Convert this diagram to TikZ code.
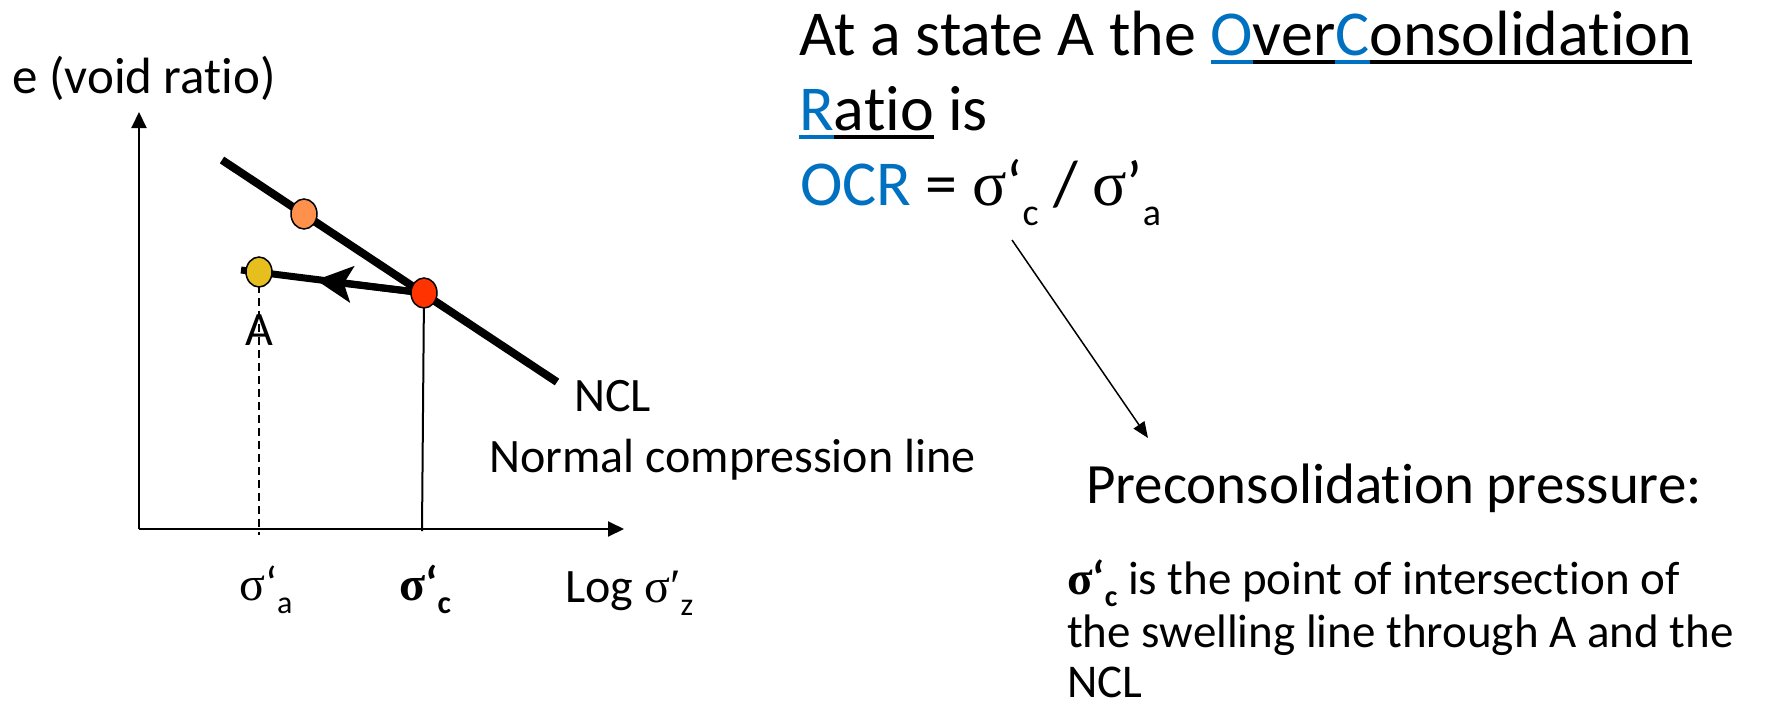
\documentclass[tikz,border=0pt]{standalone}
\usepackage{fontspec}
\setmainfont{Carlito}[Ligatures=NoCommon]
\newfontfamily\symfont{Liberation Serif}
\usetikzlibrary{arrows.meta, shapes.geometric}

\definecolor{ocrblue}{HTML}{0070C0}
\definecolor{ptorange}{HTML}{FF914D}
\definecolor{ptred}{HTML}{FF3300}
\definecolor{ptyellow}{HTML}{E6BE1E}

% sigma in a symbol-like serif, lowered small index, coloured underline
\newcommand{\sig}{{\symfont σ}}
\newcommand{\lowsub}[3]{\raisebox{-#2pt}{\fontsize{#1}{#1}\selectfont #3}}
\newcommand{\ulc}[2]{\setbox0\hbox{\color{#1}#2}\rlap{\color{#1}\rule[-9pt]{\wd0}{4pt}}\box0\relax}

\begin{document}
\begin{tikzpicture}[x=1pt, y=-1pt,
    txt/.style={inner sep=0pt, anchor=base west, font=\fontsize{48}{58}\selectfont},
    bigtxt/.style={inner sep=0pt, anchor=base west, font=\fontsize{64}{76}\selectfont},
    pt/.style={ellipse, draw=black, line width=1.5pt, minimum width=26pt, minimum height=30pt, inner sep=0pt},
    axis/.style={line width=2pt, -{Triangle[length=16pt,width=15pt]}},
    ncl/.style={line width=8pt},
    swell/.style={line width=7pt}]
    \useasboundingbox (0,0) rectangle (1765,707);

    % Axes
    \coordinate (origin) at (139,529);
    \coordinate (ytip) at (139,112);
    \coordinate (xtip) at (624,529);
    \draw[axis] (origin) -- (ytip);
    \draw[axis] (origin) -- (xtip);
    \node[txt, font=\fontsize{51}{60}\selectfont] (ylab) at (12,93) {e (void ratio)};

    % Lines
    \coordinate (ncltop) at (222,160);
    \coordinate (nclend) at (557,382);
    \coordinate (pc) at (424,293);
    \coordinate (po) at (304,214);
    \coordinate (pa) at (259,272);
    \coordinate (swtip) at (316,280);
    \coordinate (swstub) at (241,270);
    \draw[ncl] (ncltop) -- (nclend);
    \draw[swell] (pc) -- (swstub);
    \draw[swell, -{Stealth[length=36pt,width=36pt,inset=8pt]}] (pc) -- (swtip);
    \draw[line width=2pt, dash pattern=on 8pt off 5pt] (pa) -- (259,535);
    \draw[line width=2pt] (pc) -- (422,531);

    % Points
    \node[pt, fill=ptorange] (O) at (po) {};
    \node[pt, fill=ptred] (C) at (pc) {};
    \node[pt, fill=ptyellow] (A) at (pa) {};
    \node[txt, anchor=base] (Alab) at (259,345) {A};

    % Axis labels
    \node[txt] (siga) at (239,600) {\sig‘\lowsub{32}{13}{a}};
    \node[txt] (sigc) at (399,600) {{\symfont\bfseries σ}{\bfseries ‘}\lowsub{32}{13}{\bfseries c}};
    \node[txt] (logs) at (565,602) {Log \sig{\symfont ′}\lowsub{32}{13}{z}};
    \node[txt] (ncl) at (574,411) {NCL};
    \node[txt] (nclname) at (489,472) {Normal compression line};

    % Definition of OCR
    \node[bigtxt] (head1) at (799,55) {At a state A the \ulc{ocrblue}{O}\ulc{black}{ver}\ulc{ocrblue}{C}\ulc{black}{onsolidation}};
    \node[bigtxt] (head2) at (799,130) {\ulc{ocrblue}{R}\ulc{black}{atio} is};
    \node[bigtxt] (ocr) at (800,205) {{\color{ocrblue}OCR} = \sig‘\lowsub{38}{20}{c} / \sig\char"27\lowsub{38}{20}{a}};

    % Preconsolidation pressure
    \coordinate (ocrfoot) at (1012,240);
    \coordinate (pretop) at (1148,438);
    \draw[line width=1.5pt, -{Triangle[length=16pt,width=13pt]}] (ocrfoot) -- (pretop);
    \node[txt, font=\fontsize{57}{66}\selectfont] (pre) at (1086,503) {Preconsolidation pressure:};
    \node[txt, font=\fontsize{47}{56}\selectfont] (expl1) at (1067,594) {{\symfont\bfseries σ}{\bfseries ‘}\lowsub{30}{12}{\bfseries c} is the point of intersection of};
    \node[txt, font=\fontsize{47}{56}\selectfont] (expl2) at (1067,647) {the swelling line through A and the};
    \node[txt, font=\fontsize{47}{56}\selectfont] (expl3) at (1067,697) {NCL};
\end{tikzpicture}
\end{document}
